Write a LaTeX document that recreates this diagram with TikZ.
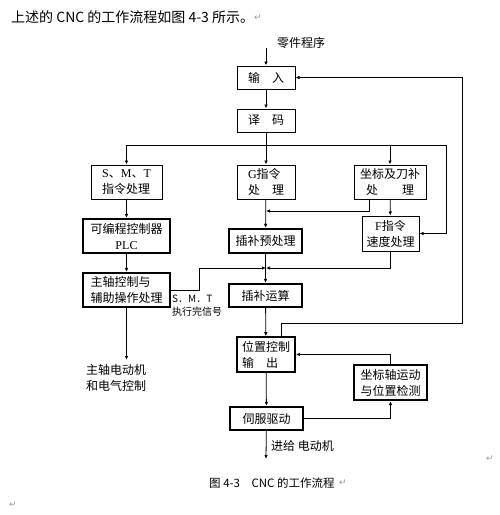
\documentclass[tikz,border=0pt]{standalone}
\usepackage{fontspec}
\setmainfont{Noto Sans CJK SC}
\newfontfamily\lat{Liberation Serif}
\newfontfamily\sym{DejaVu Sans}
\usepackage{tikz}
\usetikzlibrary{arrows.meta,positioning,calc}

\begin{document}
\begin{tikzpicture}[
        x=1pt, y=-1pt,
        box/.style={rectangle, draw, line width=1pt, inner sep=0pt, align=center, font=\fontsize{12}{16}\selectfont},
        boxb/.style={box, line width=2.2pt},
        arrow/.style={-{Latex[length=4pt,width=3.5pt]}, line width=0.8pt},
        lbl/.style={font=\fontsize{12}{16}\selectfont, inner sep=0pt},
        pmk/.style={text=black!40, font=\sym\fontsize{9}{9}\selectfont, inner sep=0pt},
    ]
        \useasboundingbox (0,0) rectangle (499,515);

        \node[anchor=west, font=\fontsize{14}{16}\selectfont, inner sep=0pt] (title) at (11,17) {上述的 CNC 的工作流程如图 4-3 所示。};

        \node[box, minimum width=58pt, minimum height=23pt] (in) at (266,77.5) {输　入};
        \node[box, minimum width=58pt, minimum height=23pt] (dec) at (266,120.5) {译　码};
        \node[box, minimum width=71pt, minimum height=34pt, align=left] (smt) at (126.5,182) {{\lat S}、{\lat M}、{\lat T}\\指令处理};
        \node[box, minimum width=58pt, minimum height=34pt, align=left] (g) at (266,182) {{\lat G}指令\\处　理};
        \node[box, minimum width=72pt, minimum height=34pt] (crd) at (390,182) {坐标及刀补\\处　　理};
        \node[boxb, minimum width=87pt, minimum height=34pt] (plc) at (126.5,236) {可编程控制器\\{\lat PLC}};
        \node[boxb, minimum width=73pt, minimum height=24pt] (pre) at (265.5,241) {插补预处理};
        \node[box, minimum width=57pt, minimum height=35pt] (f) at (390.5,233.5) {{\lat F}指令\\速度处理};
        \node[boxb, minimum width=87pt, minimum height=34pt, align=left] (aux) at (126.5,290) {主轴控制与\\辅助操作处理};
        \node[boxb, minimum width=73pt, minimum height=23pt] (itp) at (265.5,295.5) {插补运算};
        \node[box, line width=1.6pt, minimum width=58pt, minimum height=35pt, align=left] (pos) at (266,354.5) {位置控制\\输　出};
        \node[boxb, minimum width=73pt, minimum height=35pt] (det) at (390.5,382.5) {坐标轴运动\\与位置检测};
        \node[boxb, minimum width=73pt, minimum height=23pt] (srv) at (266.5,418.5) {伺服驱动};

        \coordinate (src) at (266,48);
        \coordinate (br) at (266,145);
        \coordinate (bre) at (446,145);
        \coordinate (gj) at (266,211);
        \coordinate (ij) at (266,268);
        \coordinate (fb) at (462,323);
        \coordinate (spm) at (126.5,360);
        \coordinate (feed) at (266,459);

        \node[lbl, anchor=west] (prog) at (277,43) {零件程序};
        \node[lbl, anchor=north west, align=left] (motor) at (86,364) {主轴电动机\\和电气控制};
        \node[anchor=north west, align=left, inner sep=0pt, font=\fontsize{10}{13}\selectfont] (done) at (172,295) {S．M．T\\执行完信号};
        \node[lbl, anchor=west] (feedlbl) at (271,446) {进给 电动机};

        \draw[arrow] (src) -- (in);
        \draw[arrow] (in) -- (dec);
        \draw[arrow] (dec) -- (g);
        \draw[arrow] (br) -| (smt.north);
        \draw[arrow] (br) -| (crd.north);
        \draw[arrow] (br) -- (bre) |- (f.east);
        \draw[arrow] (smt) -- (plc);
        \draw[arrow] (plc) -- (aux);
        \draw[arrow] (aux) -- (spm);
        \draw[arrow] (g) -- (pre);
        \draw[arrow] ([xshift=-21pt]crd.south) |- (gj);
        \draw[arrow] (crd) -- (f);
        \draw[arrow] (f.south) |- (ij);
        \draw[arrow] (aux.east) -- ++(28,0) |- (ij);
        \draw[arrow] (pre) -- (itp);
        \draw[arrow] (itp) -- (pos);
        \draw[arrow] (pos) -- (srv);
        \draw[arrow] (srv) -- (feed);
        \draw[arrow] (srv.east) -| (det.south);
        \draw[arrow] (det.north) |- (pos.east);
        \draw[arrow] ([xshift=15pt]pos.north) |- (fb) |- (in.east);

        \node[anchor=west, font=\fontsize{11.5}{13}\selectfont, inner sep=0pt] (cap) at (209,483) {图 4-3　CNC 的工作流程};

        \node[pmk] (pm1) at (258,18) {↵};
        \node[pmk] (pm2) at (343,483) {↵};
        \node[pmk] (pm3) at (490,459) {↵};
        \node[pmk] (pm4) at (13,505) {↵};

    \end{tikzpicture}
\end{document}
